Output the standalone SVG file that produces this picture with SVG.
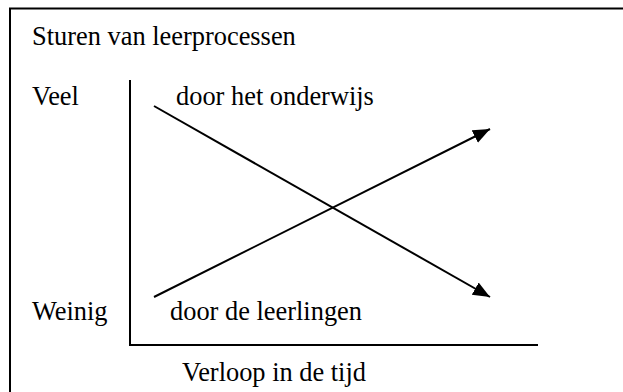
<svg xmlns="http://www.w3.org/2000/svg" width="623" height="392" viewBox="0 0 623 392">
  <style>
    .t { font-family: "Liberation Serif", "Times New Roman", serif; font-size: 26.4px; fill: #000; }
    .ax { stroke: #000; stroke-width: 2; fill: none; }
    .ln { stroke: #000; stroke-width: 2; fill: none; }
  </style>
  <defs>
    <marker id="arr" markerUnits="userSpaceOnUse" markerWidth="19" markerHeight="15" refX="17" refY="7" orient="auto">
      <path d="M0,0 L17,7 L0,14 Z" fill="#000"/>
    </marker>
  </defs>
  <rect x="0" y="0" width="623" height="392" fill="#fff"/>
  <g id="frame">
    <path class="ax" d="M10,400 L10,8.5 L630,8.5"/>
  </g>
  <g id="title"><text class="t" x="32" y="45">Sturen van leerprocessen</text></g>
  <g id="label-veel"><text class="t" x="32" y="105">Veel</text></g>
  <g id="label-weinig"><text class="t" x="32" y="320">Weinig</text></g>
  <g id="label-onderwijs"><text class="t" x="176" y="105">door het onderwijs</text></g>
  <g id="label-leerlingen"><text class="t" x="170" y="320">door de leerlingen</text></g>
  <g id="label-tijd"><text class="t" x="182" y="381">Verloop in de tijd</text></g>
  <g id="axes">
    <path class="ax" d="M130,80 L130,345 L538,345"/>
  </g>
  <g id="connectors">
    <line class="ln" x1="154" y1="106" x2="490" y2="297" marker-end="url(#arr)"/>
    <line class="ln" x1="154" y1="297" x2="490" y2="129" marker-end="url(#arr)"/>
  </g>
</svg>
